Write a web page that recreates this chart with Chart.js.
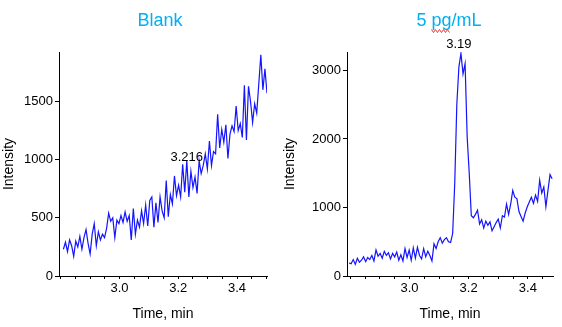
<!DOCTYPE html>
<html><head><meta charset="utf-8">
<script src="https://cdn.jsdelivr.net/npm/chart.js@4"></script>
<style>
body{margin:0;background:#fff;width:562px;height:327px;overflow:hidden;position:relative;font-family:"Liberation Sans",Arial,sans-serif}
.wrap{position:absolute;top:0;width:281px;height:327px}
.ttl{position:absolute;top:9px;width:200px;text-align:center;font-size:18px;line-height:22px;color:#00B0F0;white-space:nowrap}
#squiggle{position:absolute;left:431px;top:28px}
</style></head><body>
<div class="wrap" style="left:0"><canvas id="c1" width="281" height="327"></canvas></div>
<div class="wrap" style="left:281px"><canvas id="c2" width="281" height="327"></canvas></div>
<div class="ttl" style="left:60px">Blank</div>
<div class="ttl" style="left:349px">5 pg/mL</div>
<svg id="squiggle" width="19" height="6" viewBox="0 0 19 6"><polyline points="0.5,1.5 2.5,4.5 4.5,1.5 6.5,4.5 8.5,1.5 10.5,4.5 12.5,1.5 14.5,4.5 16.5,1.5 18.5,4.5" fill="none" stroke="#e53b3b" stroke-width="1"/></svg>
<script>
// ---- data ----
const blankTimes = [
2.809,2.816,2.823,2.830,2.837,2.844,2.851,2.858,2.865,2.872,
2.879,2.886,2.893,2.900,2.907,2.914,2.921,2.928,2.935,2.942,
2.949,2.956,2.963,2.970,2.977,2.984,2.991,2.998,3.005,3.012,
3.019,3.026,3.033,3.040,3.047,3.054,3.061,3.068,3.075,3.082,
3.089,3.096,3.103,3.110,3.117,3.124,3.131,3.138,3.145,3.152,
3.159,3.166,3.173,3.180,3.187,3.194,3.201,3.208,3.215,3.222,
3.229,3.236,3.243,3.250,3.257,3.264,3.271,3.278,3.285,3.292,
3.299,3.306,3.313,3.320,3.327,3.334,3.341,3.348,3.355,3.362,
3.369,3.376,3.383,3.390,3.397,3.404,3.411,3.418,3.425,3.432,
3.439,3.446,3.453,3.460,3.467,3.474,3.481,3.488,3.495,3.502];
const blankIntensity = [
230,290,210,310,260,170,300,250,340,230,
330,400,280,190,360,450,260,380,310,360,
330,410,540,470,500,330,480,450,520,460,
550,470,520,310,580,360,480,420,560,450,
610,430,650,680,420,630,460,680,560,500,
820,510,700,620,860,690,780,680,960,720,
990,680,900,760,850,710,990,880,950,1050,
920,1160,950,1070,1050,1390,1100,1260,1150,1300,
1010,1220,1290,1240,1460,1250,1310,1190,1640,1170,
1630,1500,1320,1480,1400,1650,1900,1600,1780,1570];

const spikeTimes = [
2.796,2.803,2.810,2.817,2.824,2.831,2.838,2.845,2.852,2.859,
2.866,2.873,2.880,2.887,2.894,2.901,2.908,2.915,2.922,2.929,
2.936,2.943,2.950,2.957,2.964,2.971,2.978,2.985,2.992,2.999,
3.006,3.013,3.020,3.027,3.034,3.041,3.048,3.055,3.062,3.069,
3.076,3.083,3.090,3.097,3.104,3.111,3.118,3.125,3.132,3.139,
3.146,3.153,3.160,3.167,3.174,3.181,3.188,3.195,3.202,3.209,
3.216,3.223,3.230,3.237,3.244,3.251,3.258,3.265,3.272,3.279,
3.286,3.293,3.300,3.307,3.314,3.321,3.328,3.335,3.342,3.349,
3.356,3.363,3.370,3.377,3.384,3.391,3.398,3.405,3.412,3.419,
3.426,3.433,3.440,3.447,3.454,3.461,3.468,3.475,3.482];
const spikeIntensity = [
190,180,240,170,260,200,230,280,210,270,
240,300,220,380,290,330,260,360,300,340,
250,330,280,350,230,310,220,400,270,380,
230,410,260,420,300,250,400,280,360,300,
220,470,400,500,560,480,530,560,500,490,
620,1350,2500,3050,3250,2950,3100,2030,1500,880,
850,900,960,760,820,700,800,740,790,660,
720,780,830,700,880,860,1050,900,1050,1250,
1150,1130,940,870,800,920,1010,1080,1150,1060,
1180,1090,1400,1210,1300,1010,1250,1480,1420];

const xTickLabels = [3.0, 3.2, 3.4];
const blankYTicks = [0, 500, 1000, 1500];
const spikeYTicks = [0, 1000, 2000, 3000];
const blankPeakLabels = [{text: '3.216', t: 3.229, v: 1018}];
const spikePeakLabels = [{text: '3.19', t: 3.167, v: 3387}];

const FONT = '"Liberation Sans", Arial, sans-serif';

const peakLabelPlugin = {
  id: 'peakLabels',
  afterDatasetsDraw(chart, args, o) {
    const {ctx} = chart, xs = chart.scales.x, ys = chart.scales.y;
    ctx.save();
    ctx.font = '13px ' + FONT;
    ctx.fillStyle = '#000';
    ctx.textAlign = 'center';
    ctx.textBaseline = 'middle';
    (o.items || []).forEach(it => ctx.fillText(it.text, xs.getPixelForValue(it.t), ys.getPixelForValue(it.v)));
    ctx.restore();
  }
};

function makeChart(id, times, values, cfg) {
  return new Chart(document.getElementById(id), {
    type: 'line',
    data: {datasets: [{
      data: times.map((t, i) => ({x: t, y: values[i]})),
      borderColor: '#1414ff', borderWidth: 1.2, pointRadius: 0, tension: 0, fill: false
    }]},
    plugins: [peakLabelPlugin],
    options: {
      responsive: false, animation: false, devicePixelRatio: 1,
      layout: {padding: {top: 52, right: cfg.padRight, bottom: 0, left: 0}},
      plugins: {legend: {display: false}, tooltip: {enabled: false}, title: {display: false},
                peakLabels: {items: cfg.labels}},
      scales: {
        x: {
          type: 'linear', min: cfg.xMin, max: cfg.xMax,
          border: {display: true, color: '#000', width: 1},
          grid: {display: true, drawOnChartArea: false, drawTicks: true, tickLength: 3, color: '#000', lineWidth: 1},
          ticks: {stepSize: 0.05, autoSkip: false, includeBounds: false, maxRotation: 0, minRotation: 0,
                  padding: 2, color: '#000', font: {family: FONT, size: 13},
                  callback: v => xTickLabels.some(t => Math.abs(t - v) < 1e-6) ? Number(v).toFixed(1) : ''},
          title: {display: true, text: 'Time, min', color: '#000', font: {family: FONT, size: 14}, padding: {top: 0, bottom: 4}},
          afterFit: s => { s.height = 51; }
        },
        y: {
          type: 'linear', min: 0, max: cfg.yMax,
          border: {display: true, color: '#000', width: 1},
          grid: {display: true, drawOnChartArea: false, drawTicks: true, tickLength: 4, color: '#000', lineWidth: 1},
          afterBuildTicks: s => { s.ticks = cfg.yTicks.map(v => ({value: v})); },
          ticks: {autoSkip: false, padding: 2, color: '#000', font: {family: FONT, size: 13},
                  callback: v => String(v)},
          title: {display: true, text: 'Intensity', color: '#000', font: {family: FONT, size: 14}, padding: {top: 1, bottom: 0}},
          afterFit: s => { s.width = cfg.yWidth; }
        }
      }
    }
  });
}

makeChart('c1', blankTimes, blankIntensity,
  {xMin: 2.794, xMax: 3.502, yMax: 1925, yTicks: blankYTicks, yWidth: 59, padRight: 14, labels: blankPeakLabels});
makeChart('c2', spikeTimes, spikeIntensity,
  {xMin: 2.789, xMax: 3.485, yMax: 3270, yTicks: spikeYTicks, yWidth: 66, padRight: 9, labels: spikePeakLabels});
</script>
</body></html>
